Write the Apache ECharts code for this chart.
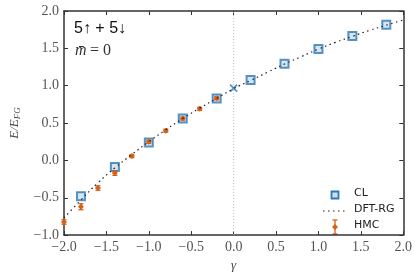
<!DOCTYPE html>
<html><head><meta charset="utf-8">
<script src="https://cdn.jsdelivr.net/npm/echarts@6/dist/echarts.min.js"></script>
<style>html,body{margin:0;padding:0;background:#fff}#c{width:415px;height:277px}</style>
</head><body><div id="c"></div>
<script>
var clX = [-1.8,-1.4,-1.0,-0.6,-0.2,0.2,0.6,1.0,1.4,1.8];
var clY = [-0.48,-0.09,0.24,0.56,0.83,1.075,1.295,1.49,1.664,1.815];
var clCross = [[0.0,0.967]];
var hmcX = [-2.0,-1.8,-1.6,-1.4,-1.2,-1.0,-0.8,-0.6,-0.4,-0.2];
var hmcY = [-0.825,-0.62,-0.37,-0.17,0.058,0.25,0.398,0.56,0.691,0.833];
var hmcErr = [0.03,0.04,0.03,0.03,0.02,0.02,0.02,0.02,0.02,0.02];
var dftX = [-2.0,-1.8,-1.6,-1.4,-1.2,-1.0,-0.8,-0.6,-0.4,-0.2,0.0,0.2,0.4,0.6,0.8,1.0,1.2,1.4,1.6,1.8,2.0];
var dftY = [-0.77,-0.53,-0.30,-0.10,0.08,0.25,0.41,0.56,0.70,0.83,0.96,1.07,1.18,1.29,1.39,1.49,1.58,1.66,1.74,1.81,1.88];
var legendNames = ['CL','DFT-RG','HMC'];

var blue = '#2f78b4', orange = '#d5601a';
var serif = 'Liberation Serif';
function fmt(v){ var s = Math.abs(v).toFixed(1); return v < 0 ? '\u2212' + s : s; }
var chart = echarts.init(document.getElementById('c'));
var axisCommon = {
  axisLine:{show:true,onZero:false,lineStyle:{color:'#333',width:1.5}},
  axisTick:{show:true,inside:true,length:4,lineStyle:{color:'#333',width:1}},
  splitLine:{show:false}
};
var lx = 335, ly = [195,211,227], tx = 354;
var legendFont = '11px "DejaVu Sans"';
chart.setOption({
  animation:false,
  grid:{left:62,right:11,top:11,bottom:34},
  xAxis:[
    Object.assign({type:'value',min:-2,max:2,interval:0.5,position:'bottom',
      name:'\u03b3',nameLocation:'middle',nameGap:22,
      nameTextStyle:{fontFamily:serif,fontStyle:'italic',fontSize:13,color:'#444'},
      axisLabel:{formatter:fmt,fontFamily:serif,fontSize:14,color:'#555',margin:5}},axisCommon),
    Object.assign({type:'value',min:-2,max:2,interval:0.5,position:'top',axisLabel:{show:false}},axisCommon)
  ],
  yAxis:[
    Object.assign({type:'value',min:-1,max:2,interval:0.5,position:'left',
      name:'{i|E/E}{s|FG}',nameLocation:'middle',nameGap:42,nameRotate:90,
      nameTextStyle:{rich:{i:{fontFamily:serif,fontStyle:'italic',fontSize:13,color:'#444'},s:{fontFamily:serif,fontStyle:'italic',fontSize:9,color:'#444',verticalAlign:'bottom',padding:[6,0,0,0]}}},
      axisLabel:{formatter:fmt,fontFamily:serif,fontSize:14,color:'#555',margin:5}},axisCommon),
    Object.assign({type:'value',min:-1,max:2,interval:0.5,position:'right',axisLabel:{show:false}},axisCommon)
  ],
  graphic:[
    {type:'text',left:74,top:21,style:{text:'5\u2191 + 5\u2193',font:'16px "Liberation Sans"',fill:'#111'}},
    {type:'text',left:75,top:43,style:{text:'{i|m\u0304} {r|= 0}',rich:{
      i:{fontFamily:serif,fontStyle:'italic',fontSize:16,fill:'#333',color:'#333'},
      r:{fontFamily:serif,fontSize:16,fill:'#333',color:'#333'}}}},
    {type:'rect',shape:{x:lx-3.5,y:ly[0]-3.5,width:7,height:7},style:{fill:'rgba(150,190,225,0.5)',stroke:blue,lineWidth:1.8}},
    {type:'line',shape:{x1:323,y1:ly[1],x2:348,y2:ly[1]},style:{stroke:'#222',lineWidth:1.2,lineDash:[1.5,3.5]}},
    {type:'line',shape:{x1:lx,y1:ly[2]-7,x2:lx,y2:ly[2]+7},style:{stroke:orange,lineWidth:1.3}},
    {type:'line',shape:{x1:lx-2.5,y1:ly[2]-7,x2:lx+2.5,y2:ly[2]-7},style:{stroke:orange,lineWidth:1.3}},
    {type:'line',shape:{x1:lx-2.5,y1:ly[2]+7,x2:lx+2.5,y2:ly[2]+7},style:{stroke:orange,lineWidth:1.3}},
    {type:'polygon',shape:{points:[[lx,ly[2]-3],[lx+3,ly[2]],[lx,ly[2]+3],[lx-3,ly[2]]]},style:{fill:orange}},
    {type:'text',left:tx,top:ly[0]-7,style:{text:legendNames[0],font:legendFont,fill:'#222'}},
    {type:'text',left:tx,top:ly[1]-7,style:{text:legendNames[1],font:legendFont,fill:'#222'}},
    {type:'text',left:tx,top:ly[2]-7,style:{text:legendNames[2],font:legendFont,fill:'#222'}}
  ],
  series:[
    {name:'zero',type:'line',data:[[0,-1],[0,2]],symbol:'none',silent:true,
      lineStyle:{color:'#bbb',width:1,type:[1,2]},z:1},
    {name:'CL',type:'scatter',data:clX.map(function(x,i){return [x,clY[i]];}),
      symbol:'rect',symbolSize:8,itemStyle:{color:'rgba(150,190,225,0.5)',borderColor:blue,borderWidth:2},z:2},
    {name:'CLx',type:'scatter',data:clCross,symbol:'path://M0,0 L10,10 M10,0 L0,10',symbolSize:7,
      itemStyle:{color:'none',borderColor:blue,borderWidth:1.8},z:2},
    {name:'HMC',type:'custom',data:hmcX.map(function(x,i){return [x,hmcY[i],hmcErr[i]];}),
      renderItem:function(params,api){
        var x=api.value(0),y=api.value(1),e=api.value(2);
        var p0=api.coord([x,y-e]),p1=api.coord([x,y+e]),pc=api.coord([x,y]);
        var st={stroke:orange,lineWidth:1.3};
        var r=3;
        return {type:'group',children:[
          {type:'line',shape:{x1:p0[0],y1:p0[1],x2:p1[0],y2:p1[1]},style:st},
          {type:'line',shape:{x1:p0[0]-2.5,y1:p0[1],x2:p0[0]+2.5,y2:p0[1]},style:st},
          {type:'line',shape:{x1:p1[0]-2.5,y1:p1[1],x2:p1[0]+2.5,y2:p1[1]},style:st},
          {type:'polygon',shape:{points:[[pc[0],pc[1]-r],[pc[0]+r,pc[1]],[pc[0],pc[1]+r],[pc[0]-r,pc[1]]]},style:{fill:orange}}
        ]};
      },itemStyle:{color:orange},z:3},
    {name:'DFT-RG',type:'line',data:dftX.map(function(x,i){return [x,dftY[i]];}),
      symbol:'none',smooth:true,lineStyle:{color:'#222',width:1.2,type:[1.5,3.5]},itemStyle:{color:'#222'},z:4}
  ]
});
</script></body></html>
